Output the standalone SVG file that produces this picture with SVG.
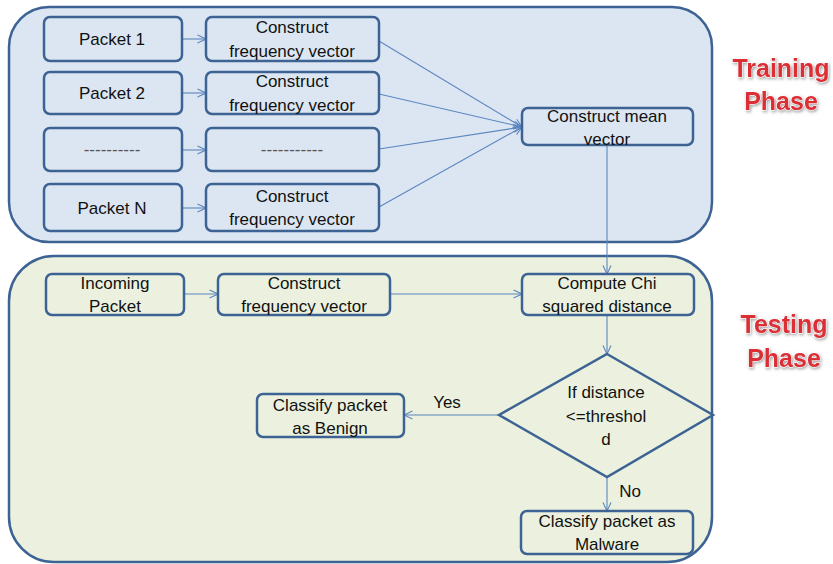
<svg xmlns="http://www.w3.org/2000/svg" width="833" height="564" viewBox="0 0 833 564">
  <defs>
    <style>
      .panel { stroke: #3c6393; stroke-width: 2.5; }
      .box { fill: none; stroke: #3c6393; stroke-width: 2.5; }
      .lbl { font-family: "Liberation Sans", Arial, sans-serif; font-size: 17px; fill: #111; text-anchor: middle; }
      .dash { fill: #555; }
      .edge { fill: none; stroke: #5b86c0; stroke-width: 1.1; }
      .phase { font-family: "Liberation Sans", Arial, sans-serif; font-size: 25px; font-weight: bold; fill: #dc2f36; text-anchor: middle; stroke: #ffffff; stroke-width: 1; paint-order: stroke; filter: url(#glow); }
    </style>
    <marker id="arr" viewBox="0 0 10 10" refX="9.5" refY="5" markerWidth="10" markerHeight="10" markerUnits="userSpaceOnUse" orient="auto">
      <path d="M1,1 L9.5,5 L1,9" fill="none" stroke="#5b86c0" stroke-width="1.1"/>
    </marker>
    <filter id="glow" x="-20%" y="-30%" width="140%" height="160%">
      <feDropShadow dx="1" dy="1.5" stdDeviation="1.5" flood-color="#777" flood-opacity="0.7"/>
    </filter>
  </defs>

  <!-- phase panels -->
  <rect id="training-panel" class="panel" x="9" y="7" width="703" height="235" rx="40" fill="#dce6f2"/>
  <rect id="testing-panel" class="panel" x="9" y="256" width="703" height="306" rx="45" fill="#ebf1de"/>

  <g id="training-label">
    <text class="phase" x="781" y="77">Training</text>
    <text class="phase" x="781" y="110">Phase</text>
  </g>
  <g id="testing-label">
    <text class="phase" x="784" y="333">Testing</text>
    <text class="phase" x="784" y="367">Phase</text>
  </g>

  <!-- connectors -->
  <g id="connectors">
    <line class="edge" x1="182" y1="39" x2="206" y2="39" marker-end="url(#arr)"/>
    <line class="edge" x1="182" y1="93" x2="206" y2="93" marker-end="url(#arr)"/>
    <line class="edge" x1="182" y1="150" x2="206" y2="150" marker-end="url(#arr)"/>
    <line class="edge" x1="182" y1="208" x2="206" y2="208" marker-end="url(#arr)"/>
    <line class="edge" x1="379" y1="41" x2="522" y2="127" marker-end="url(#arr)"/>
    <line class="edge" x1="379" y1="94" x2="522" y2="127" marker-end="url(#arr)"/>
    <line class="edge" x1="379" y1="149" x2="522" y2="127" marker-end="url(#arr)"/>
    <line class="edge" x1="379" y1="207" x2="522" y2="127" marker-end="url(#arr)"/>
    <line class="edge" x1="607" y1="145" x2="607" y2="274" marker-end="url(#arr)"/>
    <line class="edge" x1="184" y1="294" x2="218" y2="294" marker-end="url(#arr)"/>
    <line class="edge" x1="390" y1="294" x2="522" y2="294" marker-end="url(#arr)"/>
    <line class="edge" x1="607" y1="315" x2="607" y2="354" marker-end="url(#arr)"/>
    <line class="edge" x1="499" y1="415" x2="404" y2="415" marker-end="url(#arr)"/>
    <line class="edge" x1="607" y1="477" x2="607" y2="511" marker-end="url(#arr)"/>
    <text class="lbl" x="447" y="408">Yes</text>
    <text class="lbl" x="630" y="497">No</text>
  </g>

  <!-- training nodes -->
  <g id="packet1"><rect class="box" x="44" y="17" width="138" height="44" rx="6"/><text class="lbl" x="112" y="45">Packet 1</text></g>
  <g id="packet2"><rect class="box" x="44" y="72" width="138" height="42" rx="6"/><text class="lbl" x="112" y="99">Packet 2</text></g>
  <g id="packet-dots"><rect class="box" x="44" y="128" width="138" height="43" rx="6"/><text class="lbl dash" x="112" y="155">----------</text></g>
  <g id="packetN"><rect class="box" x="44" y="184" width="138" height="47" rx="6"/><text class="lbl" x="112" y="214">Packet N</text></g>

  <g id="freq1"><rect class="box" x="206" y="17" width="173" height="44" rx="6"/><text class="lbl" x="292" y="33">Construct</text><text class="lbl" x="292" y="57">frequency vector</text></g>
  <g id="freq2"><rect class="box" x="206" y="72" width="173" height="42" rx="6"/><text class="lbl" x="292" y="87">Construct</text><text class="lbl" x="292" y="111">frequency vector</text></g>
  <g id="freq-dots"><rect class="box" x="206" y="128" width="173" height="43" rx="6"/><text class="lbl dash" x="292" y="155">-----------</text></g>
  <g id="freqN"><rect class="box" x="206" y="184" width="173" height="47" rx="6"/><text class="lbl" x="292" y="202">Construct</text><text class="lbl" x="292" y="225">frequency vector</text></g>

  <g id="mean-vector"><rect class="box" x="522" y="108" width="171" height="37" rx="6"/><text class="lbl" x="607" y="122">Construct mean</text><text class="lbl" x="607" y="145">vector</text></g>

  <!-- testing nodes -->
  <g id="incoming"><rect class="box" x="46" y="274" width="138" height="41" rx="6"/><text class="lbl" x="115" y="289">Incoming</text><text class="lbl" x="115" y="312">Packet</text></g>
  <g id="freq-test"><rect class="box" x="218" y="274" width="172" height="41" rx="6"/><text class="lbl" x="304" y="289">Construct</text><text class="lbl" x="304" y="312">frequency vector</text></g>
  <g id="chi"><rect class="box" x="522" y="274" width="172" height="41" rx="6"/><text class="lbl" x="607" y="289">Compute Chi</text><text class="lbl" x="607" y="312">squared distance</text></g>
  <g id="decision"><polygon class="box" points="607,354 713,415 607,477 499,415"/><text class="lbl" x="606" y="398">If distance</text><text class="lbl" x="606" y="422">&lt;=threshol</text><text class="lbl" x="606" y="445">d</text></g>
  <g id="benign"><rect class="box" x="257" y="394" width="147" height="43" rx="6"/><text class="lbl" x="330" y="411">Classify packet</text><text class="lbl" x="330" y="434">as Benign</text></g>
  <g id="malware"><rect class="box" x="521" y="511" width="172" height="43" rx="6"/><text class="lbl" x="607" y="527">Classify packet as</text><text class="lbl" x="607" y="550">Malware</text></g>
</svg>
